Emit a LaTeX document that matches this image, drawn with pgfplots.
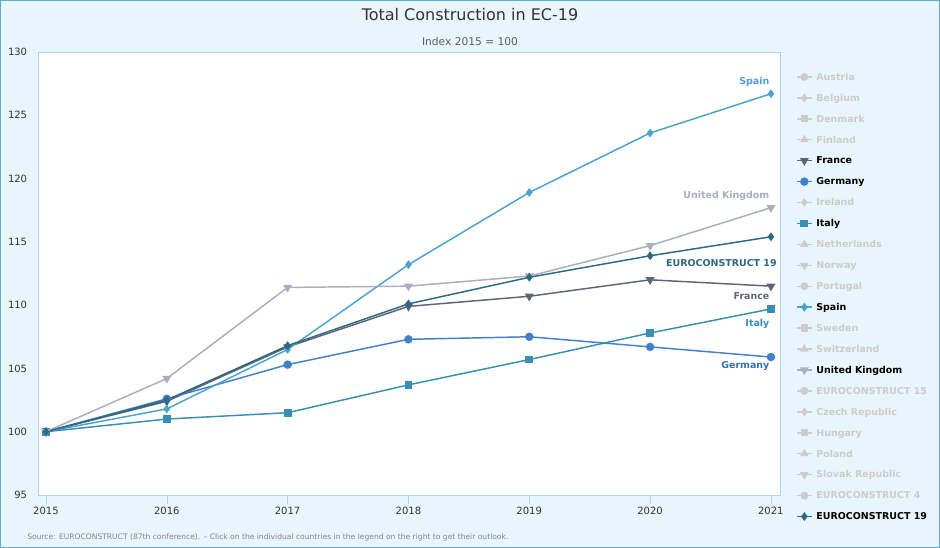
\documentclass[border=0pt]{standalone}
\usepackage{pgfplots}
\pgfplotsset{compat=1.18}
\usepackage{fontspec}
\setmainfont{DejaVu Sans}
\usetikzlibrary{plotmarks}
\definecolor{bg}{HTML}{E8F5FC}
\definecolor{outerframe}{HTML}{5AAED2}
\definecolor{plotframe}{HTML}{B0D6EA}
\definecolor{cSpain}{HTML}{4AA3CF}
\definecolor{cUK}{HTML}{A9AEC0}
\definecolor{cEC}{HTML}{2C6984}
\definecolor{cFrance}{HTML}{5F6576}
\definecolor{cItaly}{HTML}{3A8DB6}
\definecolor{cGermany}{HTML}{4380CC}
\definecolor{lgrey}{HTML}{CCCCCC}
\definecolor{txt}{HTML}{333333}
\begin{document}
\begin{tikzpicture}
\path[use as bounding box] (0,0) rectangle (705pt,411pt);
\fill[bg] (0,0) rectangle (705pt,411pt);
\draw[outerframe,line width=0.8pt] (0.4pt,0.4pt) rectangle (704.6pt,410.6pt);
\node[font=\fontsize{12}{14}\selectfont,text=txt] at (352.5pt,399.75pt) {Total Construction in EC-19};
\node[font=\fontsize{8}{10}\selectfont,text=txt!80] at (352.5pt,379.5pt) {Index 2015 = 100};
\node[font=\fontsize{5.68}{8}\selectfont,text=txt!60,anchor=west,inner sep=0pt] at (20.25pt,8.25pt) {Source: EUROCONSTRUCT (87th conference). -- Click on the individual countries in the legend on the right to get their outlook.};
\begin{axis}[
  at={(28.5pt,39.75pt)}, anchor=south west,
  scale only axis, width=556.5pt, height=332.25pt,
  xmin=2014.934, xmax=2021.075, ymin=95, ymax=130,
  axis background/.style={fill=white},
  axis line style={draw=plotframe},
  xtick={2015,...,2021}, ytick={95,100,...,130},
  xticklabel style={/pgf/number format/1000 sep={}, font=\fontsize{7.5}{10}\selectfont, text=txt, inner sep=0pt, yshift=-2pt},
  yticklabel style={font=\fontsize{7.5}{10}\selectfont, text=txt, inner sep=0pt, xshift=-1pt},
  /pgf/number format/assume math mode=true,
  xtick pos=lower, ytick pos=left,
  tick align=outside,
  major tick length=7pt,
  xtick style={draw=plotframe},
  ytick style={draw=none},
  every axis plot/.append style={line width=1.1pt},
  clip=false,
  legend cell align=left,
  legend image code/.code={\draw[mark repeat=2,mark phase=2] plot coordinates {(0pt,0pt) (5.5pt,0pt) (11pt,0pt)};},
  legend style={at={(1,1)}, anchor=north west, xshift=12pt, yshift=-14.5pt, draw=none, fill=none,
    font=\fontsize{7.1}{10}\selectfont\bfseries, inner sep=0pt,
    row sep=7.7pt,
    nodes={inner sep=0pt, inner xsep=3pt, text height=6.5pt, text depth=1.5pt}},
]
\addlegendimage{lgrey, line width=1.1pt, mark=*, mark size=2.4pt}
\addlegendentry{\textcolor{lgrey}{Austria}}
\addlegendimage{lgrey, line width=1.1pt, mark=diamond*, mark size=2.3pt}
\addlegendentry{\textcolor{lgrey}{Belgium}}
\addlegendimage{lgrey, line width=1.1pt, mark=square*, mark size=2.2pt}
\addlegendentry{\textcolor{lgrey}{Denmark}}
\addlegendimage{lgrey, line width=1.1pt, mark=triangle*, mark size=2.6pt}
\addlegendentry{\textcolor{lgrey}{Finland}}
\addplot[cFrance, mark=triangle*, mark size=2.8pt, mark options={rotate=180}] coordinates {
(2015,100) (2016,102.4) (2017,106.7) (2018,109.9) (2019,110.7) (2020,112.0) (2021,111.5)};
\addlegendentry{\textcolor{black}{France}}
\addplot[cGermany, mark=*, mark size=2.6pt] coordinates {
(2015,100) (2016,102.6) (2017,105.3) (2018,107.3) (2019,107.5) (2020,106.7) (2021,105.9)};
\addlegendentry{\textcolor{black}{Germany}}
\addlegendimage{lgrey, line width=1.1pt, mark=diamond*, mark size=2.3pt}
\addlegendentry{\textcolor{lgrey}{Ireland}}
\addplot[cItaly, mark=square*, mark size=2.4pt] coordinates {
(2015,100) (2016,101.0) (2017,101.5) (2018,103.7) (2019,105.7) (2020,107.8) (2021,109.7)};
\addlegendentry{\textcolor{black}{Italy}}
\addlegendimage{lgrey, line width=1.1pt, mark=triangle*, mark size=2.6pt}
\addlegendentry{\textcolor{lgrey}{Netherlands}}
\addlegendimage{lgrey, line width=1.1pt, mark=triangle*, mark size=2.6pt, mark options={rotate=180}}
\addlegendentry{\textcolor{lgrey}{Norway}}
\addlegendimage{lgrey, line width=1.1pt, mark=*, mark size=2.4pt}
\addlegendentry{\textcolor{lgrey}{Portugal}}
\addplot[cSpain, mark=diamond*, mark size=2.4pt] coordinates {
(2015,100) (2016,101.8) (2017,106.5) (2018,113.2) (2019,118.9) (2020,123.6) (2021,126.7)};
\addlegendentry{\textcolor{black}{Spain}}
\addlegendimage{lgrey, line width=1.1pt, mark=square*, mark size=2.2pt}
\addlegendentry{\textcolor{lgrey}{Sweden}}
\addlegendimage{lgrey, line width=1.1pt, mark=triangle*, mark size=2.6pt}
\addlegendentry{\textcolor{lgrey}{Switzerland}}
\addplot[cUK, mark=triangle*, mark size=2.8pt, mark options={rotate=180}] coordinates {
(2015,100) (2016,104.2) (2017,111.4) (2018,111.5) (2019,112.3) (2020,114.7) (2021,117.7)};
\addlegendentry{\textcolor{black}{United Kingdom}}
\addlegendimage{lgrey, line width=1.1pt, mark=*, mark size=2.4pt}
\addlegendentry{\textcolor{lgrey}{EUROCONSTRUCT 15}}
\addlegendimage{lgrey, line width=1.1pt, mark=diamond*, mark size=2.3pt}
\addlegendentry{\textcolor{lgrey}{Czech Republic}}
\addlegendimage{lgrey, line width=1.1pt, mark=square*, mark size=2.2pt}
\addlegendentry{\textcolor{lgrey}{Hungary}}
\addlegendimage{lgrey, line width=1.1pt, mark=triangle*, mark size=2.6pt}
\addlegendentry{\textcolor{lgrey}{Poland}}
\addlegendimage{lgrey, line width=1.1pt, mark=triangle*, mark size=2.6pt, mark options={rotate=180}}
\addlegendentry{\textcolor{lgrey}{Slovak Republic}}
\addlegendimage{lgrey, line width=1.1pt, mark=*, mark size=2.4pt}
\addlegendentry{\textcolor{lgrey}{EUROCONSTRUCT 4}}
\addplot[cEC, mark=diamond*, mark size=2.4pt] coordinates {
(2015,100) (2016,102.5) (2017,106.8) (2018,110.1) (2019,112.2) (2020,113.9) (2021,115.4)};
\addlegendentry{\textcolor{black}{EUROCONSTRUCT 19}}
\begin{scope}[font=\fontsize{7.1}{10}\selectfont\bfseries, inner sep=0pt]
\node[cSpain, anchor=east] at (axis cs:2021,126.7) [xshift=-1pt, yshift=9pt] {Spain};
\node[cUK, anchor=east] at (axis cs:2021,117.7) [xshift=-1pt, yshift=9pt] {United Kingdom};
\node[cEC, anchor=east] at (axis cs:2021,115.4) [xshift=4.5pt, yshift=-19.5pt] {EUROCONSTRUCT 19};
\node[cFrance, anchor=east] at (axis cs:2021,111.5) [xshift=-1pt, yshift=-7.5pt] {France};
\node[cItaly, anchor=east] at (axis cs:2021,109.7) [xshift=-1pt, yshift=-11pt] {Italy};
\node[cGermany!85!black, anchor=east] at (axis cs:2021,105.9) [xshift=-1pt, yshift=-7pt] {Germany};
\end{scope}
\end{axis}
\end{tikzpicture}
\end{document}
